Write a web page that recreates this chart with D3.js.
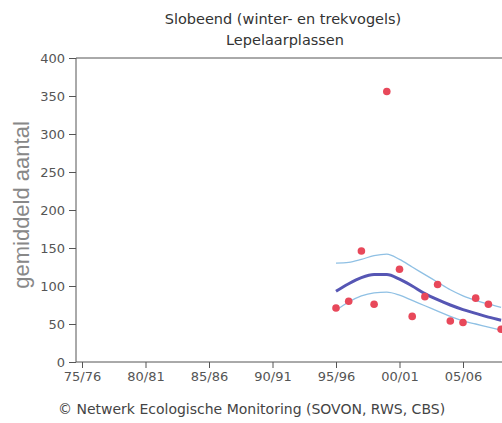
<!DOCTYPE html>
<html>
<head>
<meta charset="utf-8">
<script src="https://cdn.jsdelivr.net/npm/d3@7"></script>
<style>
  body { margin: 0; background: #fff; }
  svg { display: block; font-family: "DejaVu Sans", sans-serif; }
</style>
</head>
<body>
<div id="chart"></div>
<script>
// seizoenen (startjaar) en tellingen
var seasons = [1995, 1996, 1997, 1998, 1999, 2000, 2001, 2002, 2003, 2004, 2005, 2006, 2007, 2008];
var counts = [71, 80, 146, 76, 356, 122, 60, 86, 102, 54, 52, 84, 76, 43];
var trend = [93, 103, 111, 115, 115, 109, 100, 90, 82, 75, 69, 64, 59, 55];
var upper = [130, 131, 135, 140, 142, 135, 125, 115, 105, 95, 87, 81, 76, 72];
var lower = [68, 79, 87, 91, 92, 88, 81, 74, 67, 60, 54, 50, 46, 42];
var xTicks = [1975, 1980, 1985, 1990, 1995, 2000, 2005];
var yTicks = [0, 50, 100, 150, 200, 250, 300, 350, 400];

var width = 502, height = 423;
var svg = d3.select("#chart").append("svg")
  .attr("width", width)
  .attr("height", height);

var x = d3.scaleLinear().domain([1975, 2010]).range([82, 82 + 35 * 12.7]);
var y = d3.scaleLinear().domain([0, 400]).range([362, 58]);
var x0 = 76;

function seasonLabel(yr) {
  var a = String(yr % 100).padStart(2, "0");
  var b = String((yr + 1) % 100).padStart(2, "0");
  return a + "/" + b;
}

// titel
svg.append("text").attr("x", 283).attr("y", 24).attr("text-anchor", "middle")
  .attr("font-size", "14.5px").attr("fill", "#333")
  .text("Slobeend (winter- en trekvogels)");
svg.append("text").attr("x", 285).attr("y", 45).attr("text-anchor", "middle")
  .attr("font-size", "14.5px").attr("fill", "#333")
  .text("Lepelaarplassen");

// as-lijnen
var axisColor = "#555";
svg.append("line").attr("x1", x0).attr("x2", width).attr("y1", y(400)).attr("y2", y(400))
  .attr("stroke", axisColor);
svg.append("line").attr("x1", x0).attr("x2", x0).attr("y1", y(400)).attr("y2", y(0))
  .attr("stroke", axisColor);
svg.append("line").attr("x1", x0).attr("x2", width).attr("y1", y(0)).attr("y2", y(0))
  .attr("stroke", axisColor);

// y-as ticks
var yg = svg.append("g").attr("transform", "translate(" + x0 + ",0)")
  .call(d3.axisLeft(y).tickValues(yTicks).tickSize(7).tickPadding(4));
yg.select(".domain").remove();
yg.selectAll("line").attr("stroke", axisColor);
yg.selectAll("text").attr("fill", "#555").attr("font-size", "13px")
  .attr("font-family", "DejaVu Sans, sans-serif");

// x-as ticks
var xg = svg.append("g").attr("transform", "translate(0," + y(0) + ")")
  .call(d3.axisBottom(x).tickValues(xTicks).tickFormat(seasonLabel).tickSize(6).tickPadding(4));
xg.select(".domain").remove();
xg.selectAll("line").attr("stroke", axisColor);
xg.selectAll("text").attr("fill", "#555").attr("font-size", "13px")
  .attr("font-family", "DejaVu Sans, sans-serif");

// y-as titel
svg.append("text")
  .attr("transform", "translate(29,205) rotate(-90)")
  .attr("text-anchor", "middle")
  .attr("font-family", "Liberation Sans, Arial, sans-serif")
  .attr("font-size", "22px").attr("fill", "#888")
  .text("gemiddeld aantal");

// bron
svg.append("text").attr("x", 58).attr("y", 414)
  .attr("font-family", "DejaVu Sans, sans-serif")
  .attr("font-size", "14px").attr("fill", "#444")
  .text("\u00A9 Netwerk Ecologische Monitoring (SOVON, RWS, CBS)");

// lijnen
function lineOf(vals) {
  return d3.line()
    .x(function(d, i) { return x(seasons[i]); })
    .y(function(d) { return y(d); })
    .curve(d3.curveMonotoneX)(vals);
}
svg.append("path").attr("d", lineOf(upper)).attr("fill", "none")
  .attr("stroke", "#8fc0e4").attr("stroke-width", 1.3);
svg.append("path").attr("d", lineOf(lower)).attr("fill", "none")
  .attr("stroke", "#8fc0e4").attr("stroke-width", 1.3);
svg.append("path").attr("d", lineOf(trend)).attr("fill", "none")
  .attr("stroke", "#5656b4").attr("stroke-width", 3);

// punten
svg.selectAll(".pt")
  .data(counts)
  .enter().append("circle")
    .attr("class", "pt")
    .attr("cx", function(d, i) { return x(seasons[i]); })
    .attr("cy", function(d) { return y(d); })
    .attr("r", 3.8)
    .attr("fill", "#e8485a");
</script>
</body>
</html>
